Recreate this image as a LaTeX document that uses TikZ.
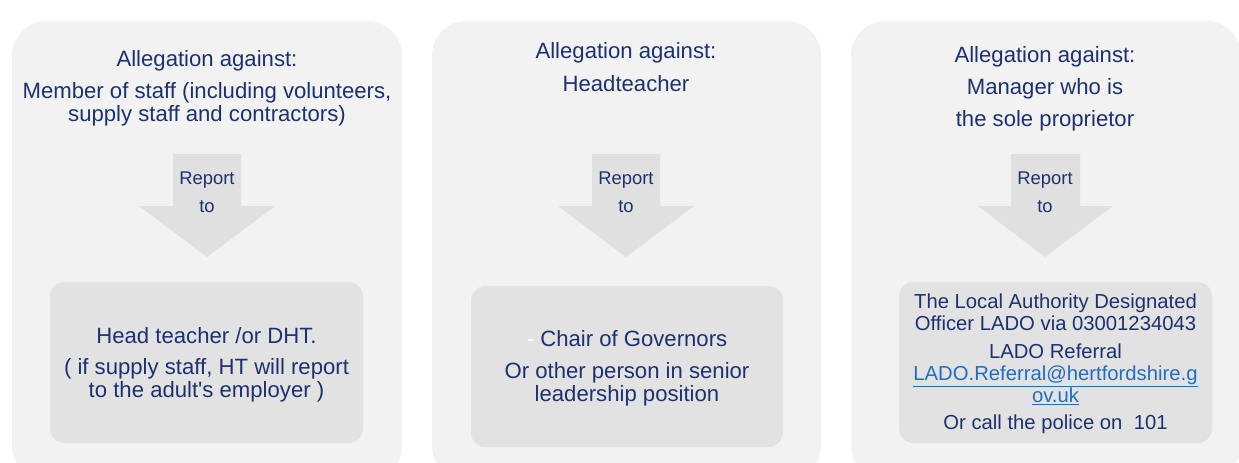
\documentclass[tikz,border=0pt]{standalone}
\usepackage{fontspec}
\setmainfont{Liberation Sans}
\usepackage{xcolor}
\usepackage{tikz}
\definecolor{panelgrey}{HTML}{F2F2F2}
\definecolor{boxgrey}{HTML}{E2E2E2}
\definecolor{arrowgrey}{HTML}{E0E0E0}
\definecolor{navytext}{HTML}{1C3270}
\definecolor{linkblue}{HTML}{1F6EC4}

\begin{document}
\begin{tikzpicture}[x=0.75pt,y=0.75pt,yscale=-1,xscale=1,
  panel/.style={fill=panelgrey, draw=none, rounded corners=26pt},
  innerbox/.style={fill=boxgrey, draw=none, rounded corners=11pt},
  blockarrow/.style={fill=arrowgrey, draw=none},
  headtxt/.style={text=navytext, align=center, inner sep=0pt, font=\fontsize{16.6}{17.25}\selectfont},
  reporttxt/.style={text=navytext, align=center, inner sep=0pt, font=\fontsize{13.8}{21}\selectfont},
  ladotxt/.style={text=navytext, align=center, inner sep=0pt, font=\fontsize{15.2}{16.2}\selectfont}]
%set diagram to the size of the screenshot
\useasboundingbox (0,0) rectangle (1239,462);
\clip (0,0) rectangle (1239,462);

%Shape: Panels
\draw [panel] (12,21) rectangle (402,480);
\draw [panel] (432,21) rectangle (821,480);
\draw [panel] (851,21) rectangle (1241,480);

%Shape: Block arrows
\draw [blockarrow] (173,154) -- (241,154) -- (241,206) -- (275,206) -- (207,257) -- (139,206) -- (173,206) -- cycle;
\draw [blockarrow] (592,154) -- (660,154) -- (660,206) -- (694,206) -- (626,257) -- (558,206) -- (592,206) -- cycle;
\draw [blockarrow] (1011,154) -- (1080,154) -- (1080,206) -- (1113,206) -- (1045,257) -- (978,206) -- (1011,206) -- cycle;

%Shape: Inner boxes
\draw [innerbox] (50,282) rectangle (363,443);
\draw [innerbox] (471,286) rectangle (783,447);
\draw [innerbox] (899,282) rectangle (1212,443);

% Text Node: staff
\node [headtxt] (stafftop) at (207,61) {Allegation against:};
\node [headtxt] (staffwho) at (207,104.5) {Member of staff (including volunteers,\\supply staff and contractors)};
\node [reporttxt] (staffrep) at (207,192) {Report\\to};
\node [headtxt] (staffto) at (206.5,335.5) {Head teacher /or DHT.};
\node [headtxt] (staffnote) at (206.5,380) {( if supply staff, HT will report\\to the adult\textquotesingle s employer )};

% Text Node: headteacher
\node [headtxt] (httop) at (626,53) {Allegation against:};
\node [headtxt] (htwho) at (626,84) {Headteacher};
\node [reporttxt] (htrep) at (626,192) {Report\\to};
\node [headtxt] (htto) at (627,338.5) {\textcolor{white}{-} Chair of Governors};
\node [headtxt] (htnote) at (627,384) {Or other person in senior\\leadership position};

% Text Node: sole proprietor
\node [headtxt, font=\fontsize{16.6}{24}\selectfont] (mgrwho) at (1045,89) {Allegation against:\\Manager who is\\the sole proprietor};
\node [reporttxt] (mgrrep) at (1045,192) {Report\\to};
\node [ladotxt] (mgrlado) at (1055.5,312.5) {The Local Authority Designated\\Officer LADO via 03001234043};
\node [ladotxt] (mgrmail) at (1055.5,374.5) {LADO Referral\\\textcolor{linkblue}{\underline{LADO.Referral@hertfordshire.g}}\\\textcolor{linkblue}{\underline{ov.uk}}};
\node [ladotxt] (mgrpolice) at (1055.5,424) {Or call the police on~~101};

\end{tikzpicture}
\end{document}
